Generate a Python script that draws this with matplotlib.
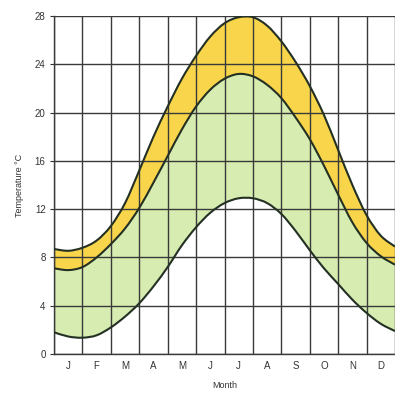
import matplotlib
matplotlib.use("Agg")
import matplotlib.pyplot as plt
import numpy as np
from matplotlib.path import Path
from matplotlib.patches import PathPatch

# half-month positions (0 = start of Jan, 12 = end of Dec)
month_pos = np.arange(0, 12.5, 0.5)
months = ["J", "F", "M", "A", "M", "J", "J", "A", "S", "O", "N", "D"]

# at each half month, deg C
upper = [8.7, 8.55, 8.8, 9.4, 10.6, 12.5, 15.2, 18.0, 20.5, 22.8, 24.7, 26.3, 27.4,
         27.9, 27.9, 27.2, 25.9, 24.2, 22.2, 19.8, 16.9, 14.0, 11.5, 9.8, 8.9]
middle = [7.1, 6.95, 7.2, 8.0, 9.1, 10.4, 12.1, 14.2, 16.4, 18.6, 20.5, 21.9, 22.8,
          23.2, 23.0, 22.3, 21.2, 19.6, 17.8, 15.6, 13.2, 10.9, 9.2, 8.1, 7.4]
lower = [1.8, 1.45, 1.35, 1.55, 2.2, 3.1, 4.2, 5.6, 7.2, 9.0, 10.5, 11.7, 12.5,
         12.9, 12.9, 12.5, 11.6, 10.2, 8.6, 7.1, 5.8, 4.5, 3.4, 2.5, 1.9]

yticks = list(range(0, 29, 4))


def bezier_segments(x, y):
    # catmull-rom through the read points, as cubic bezier pieces
    n = len(x)
    verts, codes = [], []
    for i in range(n - 1):
        a = max(i - 1, 0)
        d = min(i + 2, n - 1)
        c1 = (x[i] + (x[i + 1] - x[a]) / 6, y[i] + (y[i + 1] - y[a]) / 6)
        c2 = (x[i + 1] - (x[d] - x[i]) / 6, y[i + 1] - (y[d] - y[i]) / 6)
        verts += [c1, c2, (x[i + 1], y[i + 1])]
        codes += [Path.CURVE4] * 3
    return verts, codes


def curve_path(x, y):
    v, c = bezier_segments(x, y)
    return Path([(x[0], y[0])] + v, [Path.MOVETO] + c)


def band_path(x, lo, hi):
    v1, c1 = bezier_segments(x, hi)
    xr, lr = x[::-1], lo[::-1]
    v2, c2 = bezier_segments(xr, lr)
    verts = [(x[0], hi[0])] + v1 + [(xr[0], lr[0])] + v2 + [(x[0], hi[0])]
    codes = [Path.MOVETO] + c1 + [Path.LINETO] + c2 + [Path.CLOSEPOLY]
    return Path(verts, codes)


plt.rcParams['font.family'] = ['Liberation Sans', 'DejaVu Sans']

fig = plt.figure(figsize=(3.95, 3.94), dpi=100)
ax = fig.add_axes([54 / 395, 40 / 394, 341 / 395, 338 / 394])

x = list(month_pos)
ax.add_patch(PathPatch(band_path(x, lower, middle), fc="#d6ecb0", lw=0, zorder=1))
ax.add_patch(PathPatch(band_path(x, middle, upper), fc="#f8d54a", lw=0, zorder=1))

# grid over the fills
for m in range(13):
    ax.axvline(m, color="#3a3a3a", lw=1.0, zorder=2)
for v in yticks:
    ax.axhline(v, color="#3a3a3a", lw=1.0, zorder=2)

for s in (upper, middle, lower):
    ax.add_patch(PathPatch(curve_path(x, s), fc="none", ec="#233023", lw=1.5, zorder=3))

ax.set_xlim(0, 12)
ax.set_ylim(0, 28)
ax.set_yticks(yticks)
ax.set_xticks(np.arange(12) + 0.5)
ax.set_xticklabels(months)
ax.tick_params(axis="x", length=0, pad=5, labelsize=7, colors="#333333")
ax.tick_params(axis="y", length=3, width=0.8, pad=3, labelsize=7, colors="#333333")
for side in ("top", "right"):
    ax.spines[side].set_visible(False)
for side in ("left", "bottom"):
    ax.spines[side].set_color("#3a3a3a")
    ax.spines[side].set_linewidth(1.0)

ax.set_xlabel("Month", fontsize=6.5, color="#333333", labelpad=7)
ax.set_ylabel("Temperature °C", fontsize=6.5, color="#333333", labelpad=8)

fig.savefig("out.png", dpi=100)
plt.close()
